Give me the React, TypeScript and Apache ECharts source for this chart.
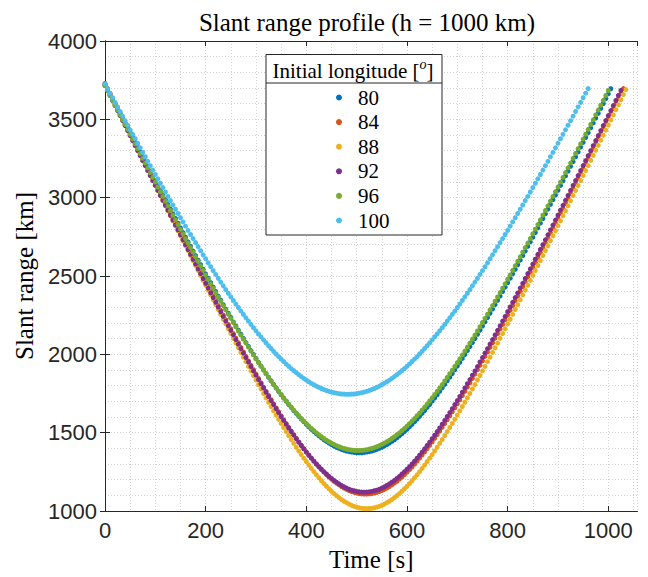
import React, { useEffect, useRef } from "react";
import * as echarts from "echarts";

// Sample times [s] (5 s step, read from the dot spacing)
const TIME_S = [
  0, 5, 10, 15, 20, 25, 30, 35, 40, 45, 50, 55, 60, 65, 70, 75, 80, 85, 90, 95,
  100, 105, 110, 115, 120, 125, 130, 135, 140, 145, 150, 155, 160, 165, 170, 175, 180, 185, 190, 195,
  200, 205, 210, 215, 220, 225, 230, 235, 240, 245, 250, 255, 260, 265, 270, 275, 280, 285, 290, 295,
  300, 305, 310, 315, 320, 325, 330, 335, 340, 345, 350, 355, 360, 365, 370, 375, 380, 385, 390, 395,
  400, 405, 410, 415, 420, 425, 430, 435, 440, 445, 450, 455, 460, 465, 470, 475, 480, 485, 490, 495,
  500, 505, 510, 515, 520, 525, 530, 535, 540, 545, 550, 555, 560, 565, 570, 575, 580, 585, 590, 595,
  600, 605, 610, 615, 620, 625, 630, 635, 640, 645, 650, 655, 660, 665, 670, 675, 680, 685, 690, 695,
  700, 705, 710, 715, 720, 725, 730, 735, 740, 745, 750, 755, 760, 765, 770, 775, 780, 785, 790, 795,
  800, 805, 810, 815, 820, 825, 830, 835, 840, 845, 850, 855, 860, 865, 870, 875, 880, 885, 890, 895,
  900, 905, 910, 915, 920, 925, 930, 935, 940, 945, 950, 955, 960, 965, 970, 975, 980, 985, 990, 995,
  1000, 1005, 1010, 1015, 1020, 1025, 1030, 1035,
];

const LONGITUDES = ["80", "84", "88", "92", "96", "100"];
const COLORS = ["#0072BD", "#D95319", "#EDB120", "#7E2F8E", "#77AC30", "#4DBEEE"];

// Slant range [km] per initial longitude, one value per sample time
const RANGE_80 = [
  3726, 3695, 3663, 3632, 3601, 3570, 3539, 3508, 3477, 3446,
  3415, 3384, 3353, 3323, 3292, 3261, 3230, 3200, 3169, 3139,
  3108, 3078, 3047, 3017, 2987, 2957, 2927, 2897, 2867, 2837,
  2807, 2777, 2748, 2718, 2689, 2659, 2630, 2601, 2572, 2543,
  2514, 2486, 2457, 2429, 2401, 2372, 2345, 2317, 2289, 2262,
  2235, 2207, 2181, 2154, 2128, 2101, 2075, 2050, 2024, 1999,
  1974, 1949, 1925, 1901, 1877, 1854, 1831, 1808, 1786, 1764,
  1742, 1721, 1701, 1680, 1661, 1641, 1623, 1604, 1587, 1570,
  1553, 1537, 1522, 1507, 1493, 1480, 1467, 1455, 1444, 1434,
  1424, 1415, 1407, 1400, 1393, 1388, 1383, 1379, 1376, 1374,
  1372, 1372,
  1372, 1374, 1376, 1379, 1383, 1388, 1393, 1400, 1407, 1415,
  1424, 1434, 1444, 1455, 1467, 1480, 1493, 1507, 1522, 1537,
  1553, 1570, 1587, 1604, 1623, 1641, 1661, 1680, 1701, 1721,
  1742, 1764, 1786, 1808, 1831, 1854, 1877, 1901, 1925, 1949,
  1974, 1999, 2024, 2050, 2075, 2101, 2128, 2154, 2181, 2207,
  2235, 2262, 2289, 2317, 2345, 2372, 2401, 2429, 2457, 2486,
  2514, 2543, 2572, 2601, 2630, 2659, 2689, 2718, 2748, 2777,
  2807, 2837, 2867, 2897, 2927, 2957, 2987, 3017, 3047, 3078,
  3108, 3139, 3169, 3200, 3230, 3261, 3292, 3323, 3353, 3384,
  3415, 3446, 3477, 3508, 3539, 3570, 3601, 3632, 3663, 3695,
];

const RANGE_84 = [
  3729, 3696, 3664, 3632, 3600, 3568, 3536, 3504, 3472, 3440,
  3408, 3376, 3344, 3312, 3280, 3249, 3217, 3185, 3153, 3121,
  3090, 3058, 3026, 2994, 2963, 2931, 2900, 2868, 2837, 2805,
  2774, 2743, 2711, 2680, 2649, 2618, 2587, 2556, 2525, 2494,
  2464, 2433, 2402, 2372, 2342, 2311, 2281, 2251, 2221, 2191,
  2162, 2132, 2103, 2074, 2044, 2015, 1987, 1958, 1930, 1902,
  1874, 1846, 1818, 1791, 1764, 1737, 1710, 1684, 1658, 1633,
  1607, 1582, 1558, 1534, 1510, 1487, 1464, 1441, 1419, 1398,
  1377, 1357, 1337, 1318, 1299, 1281, 1264, 1248, 1232, 1217,
  1204, 1190, 1178, 1167, 1156, 1147, 1138, 1131, 1124, 1119,
  1115, 1111, 1109, 1108,
  1108, 1109, 1111, 1115, 1119, 1124, 1131, 1138, 1147, 1156,
  1167, 1178, 1190, 1204, 1217, 1232, 1248, 1264, 1281, 1299,
  1318, 1337, 1357, 1377, 1398, 1419, 1441, 1464, 1487, 1510,
  1534, 1558, 1582, 1607, 1633, 1658, 1684, 1710, 1737, 1764,
  1791, 1818, 1846, 1874, 1902, 1930, 1958, 1987, 2015, 2044,
  2074, 2103, 2132, 2162, 2191, 2221, 2251, 2281, 2311, 2342,
  2372, 2402, 2433, 2464, 2494, 2525, 2556, 2587, 2618, 2649,
  2680, 2711, 2743, 2774, 2805, 2837, 2868, 2900, 2931, 2963,
  2994, 3026, 3058, 3090, 3121, 3153, 3185, 3217, 3249, 3280,
  3312, 3344, 3376, 3408, 3440, 3472, 3504, 3536, 3568, 3600,
  3632, 3664, 3696,
];

const RANGE_88 = [
  3722, 3690, 3658, 3625, 3593, 3561, 3528, 3496, 3464, 3431,
  3399, 3367, 3334, 3302, 3270, 3238, 3205, 3173, 3141, 3109,
  3077, 3045, 3013, 2980, 2948, 2916, 2884, 2852, 2821, 2789,
  2757, 2725, 2693, 2662, 2630, 2598, 2567, 2535, 2504, 2472,
  2441, 2410, 2379, 2348, 2317, 2286, 2255, 2224, 2194, 2163,
  2133, 2102, 2072, 2042, 2012, 1982, 1953, 1923, 1894, 1865,
  1836, 1807, 1779, 1750, 1722, 1694, 1667, 1639, 1612, 1585,
  1559, 1533, 1507, 1481, 1456, 1432, 1407, 1383, 1360, 1337,
  1315, 1293, 1272, 1251, 1231, 1212, 1193, 1175, 1158, 1142,
  1126, 1111, 1098, 1085, 1073, 1062, 1053, 1044, 1036, 1030,
  1025, 1020, 1017, 1016, 1015,
  1016, 1017, 1020, 1025, 1030, 1036, 1044, 1053, 1062, 1073,
  1085, 1098, 1111, 1126, 1142, 1158, 1175, 1193, 1212, 1231,
  1251, 1272, 1293, 1315, 1337, 1360, 1383, 1407, 1432, 1456,
  1481, 1507, 1533, 1559, 1585, 1612, 1639, 1667, 1694, 1722,
  1750, 1779, 1807, 1836, 1865, 1894, 1923, 1953, 1982, 2012,
  2042, 2072, 2102, 2133, 2163, 2194, 2224, 2255, 2286, 2317,
  2348, 2379, 2410, 2441, 2472, 2504, 2535, 2567, 2598, 2630,
  2662, 2693, 2725, 2757, 2789, 2821, 2852, 2884, 2916, 2948,
  2980, 3013, 3045, 3077, 3109, 3141, 3173, 3205, 3238, 3270,
  3302, 3334, 3367, 3399, 3431, 3464, 3496, 3528, 3561, 3593,
  3625, 3658, 3690,
];

const RANGE_92 = [
  3716, 3684, 3652, 3620,
  3588, 3556, 3524, 3492, 3460, 3428, 3396, 3364, 3332, 3300,
  3268, 3236, 3205, 3173, 3141, 3109, 3078, 3046, 3014, 2983,
  2951, 2920, 2888, 2857, 2825, 2794, 2763, 2731, 2700, 2669,
  2638, 2607, 2576, 2545, 2515, 2484, 2453, 2423, 2392, 2362,
  2332, 2302, 2272, 2242, 2212, 2182, 2153, 2124, 2094, 2065,
  2036, 2008, 1979, 1951, 1922, 1894, 1867, 1839, 1812, 1785,
  1758, 1731, 1705, 1679, 1653, 1628, 1603, 1578, 1554, 1530,
  1507, 1484, 1461, 1439, 1418, 1397, 1376, 1356, 1337, 1318,
  1300, 1283, 1267, 1251, 1236, 1221, 1208, 1195, 1184, 1173,
  1163, 1154, 1146, 1139, 1133, 1129, 1125, 1122, 1121, 1120,
  1121, 1122, 1125, 1129, 1133, 1139, 1146, 1154, 1163,
  1173, 1184, 1195, 1208, 1221, 1236, 1251, 1267, 1283, 1300,
  1318, 1337, 1356, 1376, 1397, 1418, 1439, 1461, 1484, 1507,
  1530, 1554, 1578, 1603, 1628, 1653, 1679, 1705, 1731, 1758,
  1785, 1812, 1839, 1867, 1894, 1922, 1951, 1979, 2008, 2036,
  2065, 2094, 2124, 2153, 2182, 2212, 2242, 2272, 2302, 2332,
  2362, 2392, 2423, 2453, 2484, 2515, 2545, 2576, 2607, 2638,
  2669, 2700, 2731, 2763, 2794, 2825, 2857, 2888, 2920, 2951,
  2983, 3014, 3046, 3078, 3109, 3141, 3173, 3205, 3236, 3268,
  3300, 3332, 3364, 3396, 3428, 3460, 3492, 3524, 3556, 3588,
  3620, 3652, 3684,
];

const RANGE_96 = [
  3715,
  3684, 3652, 3621, 3590, 3559, 3528, 3497, 3467, 3436, 3405,
  3374, 3343, 3313, 3282, 3251, 3221, 3190, 3160, 3129, 3099,
  3068, 3038, 3008, 2978, 2948, 2918, 2888, 2858, 2828, 2799,
  2769, 2739, 2710, 2681, 2652, 2622, 2594, 2565, 2536, 2507,
  2479, 2450, 2422, 2394, 2366, 2339, 2311, 2284, 2256, 2229,
  2203, 2176, 2149, 2123, 2097, 2072, 2046, 2021, 1996, 1971,
  1947, 1923, 1899, 1876, 1853, 1830, 1807, 1785, 1764, 1743,
  1722, 1702, 1682, 1663, 1644, 1625, 1608, 1590, 1574, 1558,
  1542, 1527, 1513, 1499, 1487, 1474, 1463, 1452, 1442, 1433,
  1425, 1417, 1410, 1404, 1399, 1395, 1391, 1389, 1387, 1386,
  1386, 1387, 1389, 1391, 1395, 1399, 1404, 1410, 1417, 1425,
  1433, 1442, 1452, 1463, 1474, 1487, 1499, 1513, 1527, 1542,
  1558, 1574, 1590, 1608, 1625, 1644, 1663, 1682, 1702, 1722,
  1743, 1764, 1785, 1807, 1830, 1853, 1876, 1899, 1923, 1947,
  1971, 1996, 2021, 2046, 2072, 2097, 2123, 2149, 2176, 2203,
  2229, 2256, 2284, 2311, 2339, 2366, 2394, 2422, 2450, 2479,
  2507, 2536, 2565, 2594, 2622, 2652, 2681, 2710, 2739, 2769,
  2799, 2828, 2858, 2888, 2918, 2948, 2978, 3008, 3038, 3068,
  3099, 3129, 3160, 3190, 3221, 3251, 3282, 3313, 3343, 3374,
  3405, 3436, 3467, 3497, 3528, 3559, 3590, 3621, 3652, 3684,
];

const RANGE_100 = [
  3726, 3696, 3667, 3638, 3608, 3579, 3550,
  3520, 3491, 3462, 3433, 3404, 3376, 3347, 3318, 3289, 3261,
  3232, 3204, 3176, 3148, 3120, 3092, 3064, 3036, 3008, 2981,
  2953, 2926, 2899, 2872, 2845, 2818, 2791, 2765, 2739, 2713,
  2687, 2661, 2635, 2610, 2584, 2559, 2534, 2510, 2485, 2461,
  2437, 2413, 2390, 2367, 2344, 2321, 2299, 2276, 2255, 2233,
  2212, 2191, 2170, 2150, 2130, 2111, 2092, 2073, 2055, 2037,
  2019, 2002, 1985, 1969, 1954, 1938, 1924, 1909, 1896, 1883,
  1870, 1858, 1846, 1835, 1825, 1815, 1806, 1797, 1789, 1782,
  1775, 1769, 1764, 1759, 1755, 1752, 1749, 1747, 1746, 1745,
  1745, 1746, 1747, 1749, 1752, 1755, 1759, 1764, 1769, 1775,
  1782, 1789, 1797, 1806, 1815, 1825, 1835, 1846, 1858, 1870,
  1883, 1896, 1909, 1924, 1938, 1954, 1969, 1985, 2002, 2019,
  2037, 2055, 2073, 2092, 2111, 2130, 2150, 2170, 2191, 2212,
  2233, 2255, 2276, 2299, 2321, 2344, 2367, 2390, 2413, 2437,
  2461, 2485, 2510, 2534, 2559, 2584, 2610, 2635, 2661, 2687,
  2713, 2739, 2765, 2791, 2818, 2845, 2872, 2899, 2926, 2953,
  2981, 3008, 3036, 3064, 3092, 3120, 3148, 3176, 3204, 3232,
  3261, 3289, 3318, 3347, 3376, 3404, 3433, 3462, 3491, 3520,
  3550, 3579, 3608, 3638, 3667, 3696,
];

const RANGES = [RANGE_80, RANGE_84, RANGE_88, RANGE_92, RANGE_96, RANGE_100];

const SERIF = "'Liberation Serif', 'Times New Roman', serif";
const SANS = "'Liberation Sans', Arial, Helvetica, sans-serif";
const AXIS_COLOR = "#262626";
const GRID_COLOR = "#d2d2d2";

export default function App() {
  const ref = useRef<HTMLDivElement>(null);

  useEffect(() => {
    if (!ref.current) return;
    const chart = echarts.init(ref.current, undefined, { renderer: "svg" });

    const series = RANGES.map((vals, k) => ({
      type: "scatter",
      name: LONGITUDES[k],
      data: vals.map((v, i) => [TIME_S[i], v]),
      symbol: "circle",
      symbolSize: 5,
      itemStyle: { color: COLORS[k], opacity: 1 },
      xAxisIndex: 0,
      yAxisIndex: 0,
      silent: true,
      z: 2,
    }));

    const gridLine = { show: true, lineStyle: { color: GRID_COLOR, width: 1, type: [1, 2] } };

    chart.setOption({
      animation: false,
      backgroundColor: "#ffffff",
      title: {
        text: "Slant range profile (h = 1000 km)",
        left: 362,
        top: 5,
        textAlign: "center",
        textStyle: { fontFamily: SERIF, fontSize: 25, fontWeight: "normal", color: "#000" },
      },
      grid: { left: 105, right: 10.5, top: 41, bottom: 66, containLabel: false },
      xAxis: [
        {
          type: "value",
          position: "bottom",
          min: 0,
          max: 1058,
          interval: 200,
          name: "Time [s]",
          nameLocation: "middle",
          nameGap: 36,
          nameTextStyle: { fontFamily: SERIF, fontSize: 25, color: "#000" },
          axisLine: { show: true, lineStyle: { color: AXIS_COLOR, width: 1 } },
          axisTick: { show: true, inside: true, length: 5, lineStyle: { color: AXIS_COLOR } },
          axisLabel: {
            show: true,
            margin: 8,
            showMaxLabel: false,
            fontFamily: SANS,
            fontSize: 22,
            color: AXIS_COLOR,
            formatter: (v: number) => String(v),
          },
          splitLine: { show: false },
        },
        {
          type: "value",
          position: "top",
          min: 0,
          max: 1058,
          interval: 200,
          axisLine: { show: true, lineStyle: { color: AXIS_COLOR, width: 1 } },
          axisTick: { show: true, inside: true, length: 5, lineStyle: { color: AXIS_COLOR } },
          axisLabel: { show: false },
          splitLine: { show: false },
        },
        {
          type: "value",
          position: "bottom",
          min: 0,
          max: 1058,
          interval: 50,
          axisLine: { show: false },
          axisTick: { show: false },
          axisLabel: { show: false },
          splitLine: gridLine,
        },
      ],
      yAxis: [
        {
          type: "value",
          position: "left",
          min: 1000,
          max: 4000,
          interval: 500,
          name: "Slant range [km]",
          nameLocation: "middle",
          nameGap: 67,
          nameTextStyle: { fontFamily: SERIF, fontSize: 25, color: "#000" },
          axisLine: { show: true, lineStyle: { color: AXIS_COLOR, width: 1 } },
          axisTick: { show: true, inside: true, length: 5, lineStyle: { color: AXIS_COLOR } },
          axisLabel: {
            show: true,
            margin: 8,
            fontFamily: SANS,
            fontSize: 22,
            color: AXIS_COLOR,
            formatter: (v: number) => String(v),
          },
          splitLine: gridLine,
          minorTick: { show: false, splitNumber: 5 },
          minorSplitLine: { show: true, lineStyle: { color: GRID_COLOR, width: 1, type: [1, 2] } },
        },
        {
          type: "value",
          position: "right",
          min: 1000,
          max: 4000,
          interval: 500,
          axisLine: { show: true, lineStyle: { color: AXIS_COLOR, width: 1 } },
          axisTick: { show: true, inside: true, length: 5, lineStyle: { color: AXIS_COLOR } },
          axisLabel: { show: false },
          splitLine: { show: false },
        },
      ],
      legend: {
        data: LONGITUDES,
        orient: "vertical",
        left: 331,
        top: 82,
        icon: "circle",
        itemWidth: 6,
        itemHeight: 6,
        itemGap: 3.6,
        selectedMode: false,
        z: 6,
        textStyle: {
          fontFamily: SERIF,
          fontSize: 21,
          lineHeight: 20,
          color: "#000",
          padding: [0, 0, 0, 11],
        },
      },
      graphic: [
        {
          type: "rect",
          z: 4,
          shape: { x: 266, y: 54.5, width: 176, height: 180.5 },
          style: { fill: "#ffffff", stroke: AXIS_COLOR, lineWidth: 1 },
          silent: true,
        },
        {
          type: "line",
          z: 5,
          shape: { x1: 266, y1: 83, x2: 442, y2: 83 },
          style: { stroke: AXIS_COLOR, lineWidth: 1 },
          silent: true,
        },
        {
          type: "text",
          z: 5,
          x: 353,
          y: 69,
          silent: true,
          style: {
            text: "{a|Initial longitude [}{b|o}{a|]}",
            align: "center",
            verticalAlign: "middle",
            rich: {
              a: { fontFamily: SERIF, fontSize: 21, color: "#000", lineHeight: 24, verticalAlign: "bottom" },
              b: { fontFamily: SERIF, fontSize: 14, fontStyle: "italic", color: "#000", lineHeight: 24, verticalAlign: "top" },
            },
          },
        },
      ],
      series,
    });

    return () => chart.dispose();
  }, []);

  return (
    <div
      ref={ref}
      style={{ position: "absolute", left: 0, top: 0, width: 648, height: 577, background: "#fff" }}
    />
  );
}
